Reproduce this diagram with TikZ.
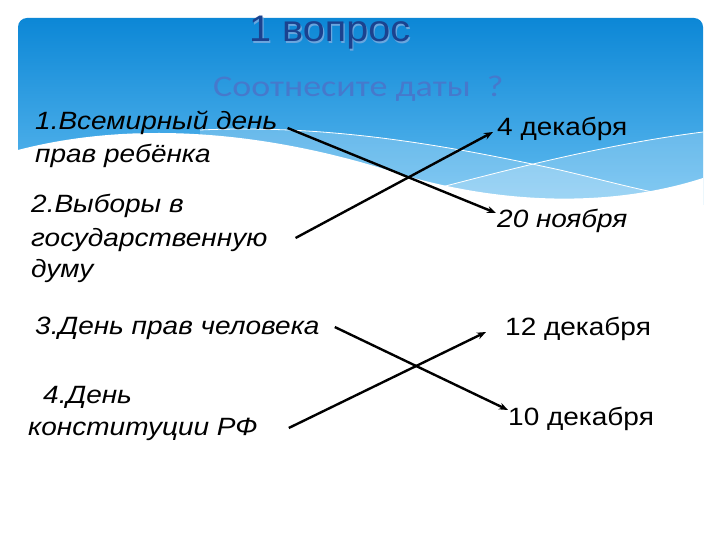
\documentclass[tikz,border=0pt]{standalone}
\usepackage{fontspec}
\setmainfont{Liberation Sans}
\newfontfamily\itemfont[FakeStretch=1.12]{Liberation Sans}
\newfontfamily\titlefont[FakeStretch=1.07]{Liberation Sans}
\newfontfamily\subfont[FakeStretch=1.2]{Carlito}
\usetikzlibrary{arrows.meta,calc}
\definecolor{skytop}{HTML}{0C87D6}
\definecolor{skybot}{HTML}{62BCF0}
\definecolor{titleblue}{HTML}{1B428F}
\definecolor{titleshade}{HTML}{6AA6DE}
\definecolor{subblue}{HTML}{4679CC}
\tikzset{
  lefttext/.style={anchor=base west,inner sep=0pt,font=\itemfont\itshape\fontsize{25}{25}\selectfont},
  righttext/.style={anchor=base west,inner sep=0pt,font=\itemfont\fontsize{25}{25}\selectfont},
  rightit/.style={righttext,font=\itemfont\itshape\fontsize{25}{25}\selectfont},
  arr/.style={line width=2.4pt,-{Stealth[length=9pt,width=7pt]}},
  wline/.style={white,line width=0.8pt}
}
\begin{document}
\begin{tikzpicture}[x=1pt,y=-1pt]
\useasboundingbox (0,0) rectangle (720,540);
\fill[white] (0,0) rectangle (720,540);
% banner
\begin{scope}
\clip[rounded corners=9pt] (18,18) rectangle (703,260);
\shade[top color=skytop,bottom color=skybot] (18,18) rectangle (703,205);
\fill[white,opacity=0.22] (200,130) .. controls (330,124) and (450,146) .. (560,170) .. controls (620,184) and (660,196) .. (703,200) -- (703,260) -- (200,260) -- cycle;
\fill[white,opacity=0.22] (430,190) .. controls (500,172) and (600,145) .. (703,132) -- (703,260) -- (430,260) -- cycle;
\draw[wline] (200,130) .. controls (330,124) and (450,146) .. (560,170) .. controls (620,184) and (660,196) .. (703,200);
\draw[wline] (430,190) .. controls (500,172) and (600,145) .. (703,132);
\fill[white] (0,155) -- (18,150) .. controls (110,126) and (240,122) .. (400,174) .. controls (500,204) and (610,208) .. (703,178) -- (720,178) -- (720,260) -- (0,260) -- cycle;
\end{scope}
% titles
\node[anchor=base west,inner sep=0pt,text=titleshade,font=\titlefont\fontsize{37}{37}\selectfont] (titleshadow) at (250.2,43.2) {1 вопрос};
\node[anchor=base west,inner sep=0pt,text=titleblue,font=\titlefont\fontsize{37}{37}\selectfont] (title) at (249,42) {1 вопрос};
\node[anchor=base west,inner sep=0pt,text=subblue,font=\subfont\fontsize{30}{30}\selectfont] (sub) at (213,97) {Соотнесите даты \ ?};
% left items
\node[lefttext] (i1a) at (35,130) {1.Всемирный день};
\node[lefttext] (i1b) at (35,163) {прав ребёнка};
\node[lefttext] (i2a) at (31,212) {2.Выборы в};
\node[lefttext] (i2b) at (31,246) {государственную};
\node[lefttext] (i2c) at (31,277) {думу};
\node[lefttext] (i3) at (35,334) {3.День прав человека};
\node[lefttext] (i4a) at (43,403) {4.День};
\node[lefttext] (i4b) at (28,435) {конституции РФ};
% right items
\node[righttext] (r1) at (497,136) {4 декабря};
\node[rightit] (r2) at (497,227) {20 ноября};
\node[righttext] (r3) at (505,335) {12 декабря};
\node[righttext] (r4) at (508,425) {10 декабря};
% arrows
\draw[arr] ([xshift=10pt,yshift=2pt]i1a.base east) -- ([xshift=-1pt,yshift=14pt]r2.base west);
\draw[arr] ([xshift=28pt,yshift=8pt]i2b.base east) -- ([xshift=-4pt,yshift=4pt]r1.base west);
\draw[arr] ([xshift=15pt,yshift=7pt]i3.base east) -- ([xshift=0pt,yshift=15pt]r4.base west);
\draw[arr] ([xshift=31pt,yshift=7pt]i4b.base east) -- ([xshift=-19pt,yshift=3pt]r3.base west);
\end{tikzpicture}
\end{document}
